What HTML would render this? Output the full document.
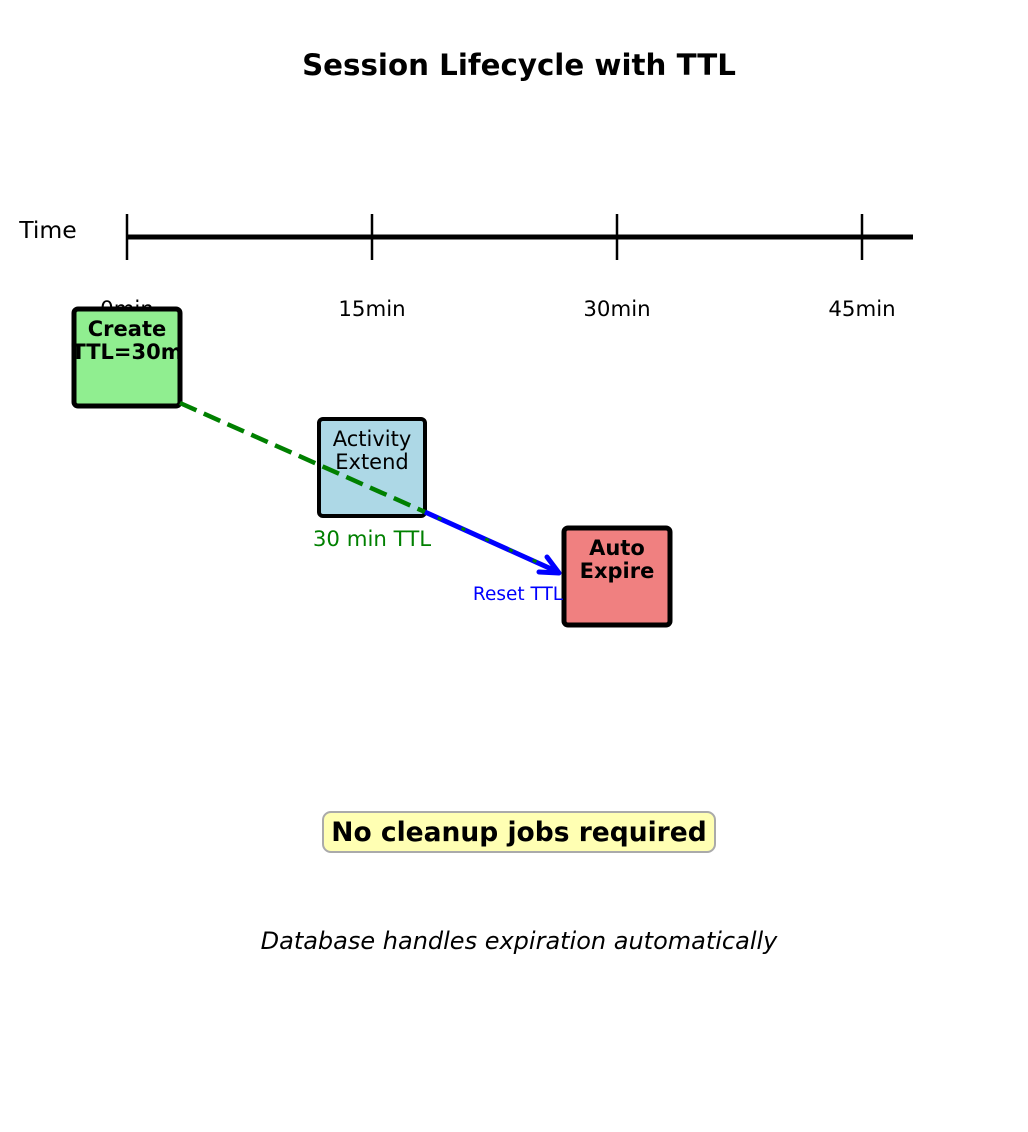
<!DOCTYPE html>
<html><head><style>body{margin:0;background:#fff}svg{display:block}text{font-family:"DejaVu Sans","Liberation Sans",sans-serif}</style></head><body>
<svg width="1028" height="1132" viewBox="0 0 1028 1132" xmlns="http://www.w3.org/2000/svg">
<rect width="1028" height="1132" fill="#fff"/>
<text x="519" y="75" font-size="29.3" font-weight="bold" text-anchor="middle">Session Lifecycle with TTL</text>
<text x="48" y="238" font-size="23.5" text-anchor="middle">Time</text>
<line x1="126" y1="237" x2="913" y2="237" stroke="#000" stroke-width="5"/>
<g stroke="#000" stroke-width="2.5"><line x1="127" y1="214" x2="127" y2="260"/><line x1="372" y1="214" x2="372" y2="260"/><line x1="617" y1="214" x2="617" y2="260"/><line x1="862" y1="214" x2="862" y2="260"/></g>
<g font-size="21.3" text-anchor="middle"><text x="127" y="316">0min</text><text x="372" y="316">15min</text><text x="617" y="316">30min</text><text x="862" y="316">45min</text></g>
<rect x="74" y="309" width="106" height="97" rx="4" fill="#90ee90" stroke="#000" stroke-width="5"/>
<text x="127" y="336" font-size="21" font-weight="bold" text-anchor="middle">Create</text>
<text x="127" y="359" font-size="21" font-weight="bold" text-anchor="middle">TTL=30m</text>
<rect x="319" y="419" width="106" height="97" rx="4" fill="#add8e6" stroke="#000" stroke-width="4"/>
<text x="372" y="446" font-size="21" text-anchor="middle">Activity</text>
<text x="372" y="469" font-size="21" text-anchor="middle">Extend</text>
<rect x="564" y="528" width="106" height="97" rx="4" fill="#f08080" stroke="#000" stroke-width="5"/>
<text x="617" y="555" font-size="21" font-weight="bold" text-anchor="middle">Auto</text>
<text x="617" y="578" font-size="21" font-weight="bold" text-anchor="middle">Expire</text>
<line x1="180" y1="403" x2="425" y2="512" stroke="#008000" stroke-width="4.5" stroke-dasharray="18,8"/>
<line x1="425" y1="512" x2="558" y2="572" stroke="#00f" stroke-width="5"/>
<polyline points="547,557 559,573 539,572" fill="none" stroke="#00f" stroke-width="5" stroke-linecap="round" stroke-linejoin="round"/>
<line x1="425" y1="512" x2="555" y2="570" stroke="#008000" stroke-width="3" stroke-dasharray="4,22" stroke-dashoffset="-14"/>
<text x="372" y="546" font-size="21.3" fill="#008000" text-anchor="middle">30 min TTL</text>
<text x="518" y="600" font-size="18.5" fill="#00f" text-anchor="middle">Reset TTL</text>
<rect x="323" y="812" width="392" height="40" rx="8" fill="#ffffb3" stroke="#aaa" stroke-width="2"/>
<text x="519" y="841" font-size="26.5" font-weight="bold" text-anchor="middle">No cleanup jobs required</text>
<text x="519" y="949" font-size="24" font-style="italic" text-anchor="middle">Database handles expiration automatically</text>
</svg></body></html>
